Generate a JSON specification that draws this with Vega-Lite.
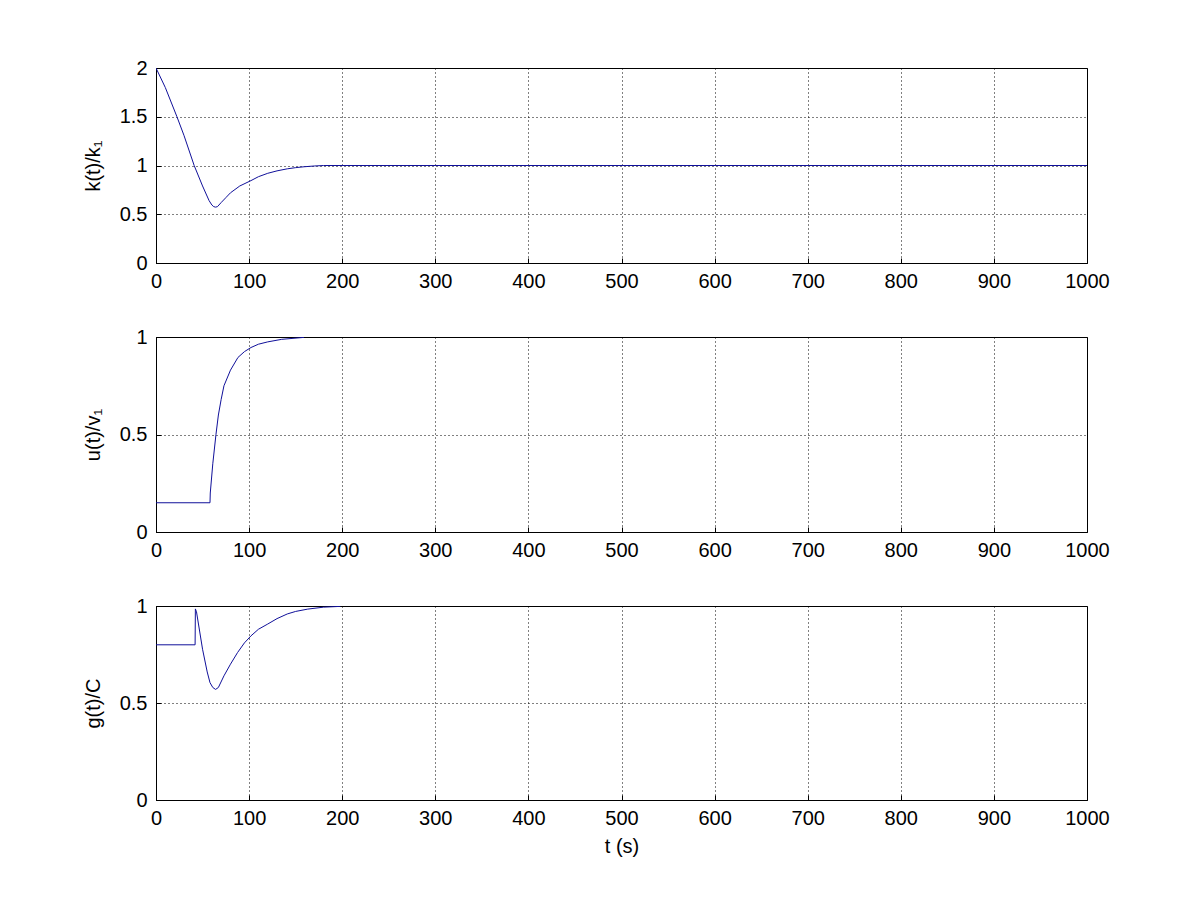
{
  "$schema": "https://vega.github.io/schema/vega-lite/v6.json",
  "background": "white",
  "autosize": {"type": "pad"},
  "padding": {"left": 82, "top": 57, "right": 0, "bottom": 0},
  "spacing": 74,
  "bounds": "flush",
  "config": {
    "font": "Liberation Sans",
    "view": {"stroke": "black", "strokeWidth": 1},
    "axis": {
      "domain": true,
      "domainColor": "black",
      "grid": true,
      "gridColor": "black",
      "gridDash": [1, 3],
      "gridOpacity": 1,
      "gridWidth": 1,
      "tickColor": "black",
      "tickSize": -5,
      "labelFont": "Liberation Sans",
      "labelFontSize": 20,
      "labelColor": "black",
      "titleFont": "Liberation Sans",
      "titleFontSize": 20,
      "titleFontWeight": "normal",
      "titleColor": "black"
    },
    "axisX": {"labelPadding": 13, "labelFlush": false, "labelOverlap": false, "format": "d"},
    "axisY": {"labelPadding": 14, "titlePadding": 16, "format": ".1~f"}
  },
  "datasets": {
    "k": [
      {"t": 0, "v": 2.0}, {"t": 10, "v": 1.8}, {"t": 22.5, "v": 1.5},
      {"t": 30, "v": 1.31}, {"t": 41, "v": 1.0}, {"t": 50, "v": 0.79}, {"t": 57, "v": 0.64},
      {"t": 60, "v": 0.595}, {"t": 62, "v": 0.578}, {"t": 64, "v": 0.573}, {"t": 66, "v": 0.578},
      {"t": 70, "v": 0.62}, {"t": 75, "v": 0.67},
      {"t": 80, "v": 0.72}, {"t": 90, "v": 0.79}, {"t": 102, "v": 0.845}, {"t": 110, "v": 0.885},
      {"t": 120, "v": 0.92}, {"t": 130, "v": 0.945}, {"t": 141, "v": 0.966}, {"t": 150, "v": 0.978},
      {"t": 159, "v": 0.987}, {"t": 170, "v": 0.995}, {"t": 180, "v": 1.0}, {"t": 1000, "v": 1.0}
    ],
    "u": [
      {"t": 0, "v": 0.15}, {"t": 58, "v": 0.15}, {"t": 58.3, "v": 0.2}, {"t": 61, "v": 0.35},
      {"t": 64.4, "v": 0.5}, {"t": 67, "v": 0.6}, {"t": 70, "v": 0.68}, {"t": 73, "v": 0.75},
      {"t": 80, "v": 0.83}, {"t": 88, "v": 0.895}, {"t": 95, "v": 0.925}, {"t": 102, "v": 0.946},
      {"t": 110, "v": 0.963}, {"t": 120, "v": 0.975}, {"t": 135, "v": 0.988}, {"t": 159, "v": 0.998}
    ],
    "g": [
      {"t": 0, "v": 0.8}, {"t": 42, "v": 0.8}, {"t": 42.3, "v": 0.985}, {"t": 43.5, "v": 0.97},
      {"t": 50, "v": 0.777}, {"t": 55, "v": 0.66}, {"t": 58, "v": 0.605}, {"t": 61, "v": 0.58},
      {"t": 64, "v": 0.57}, {"t": 67, "v": 0.58}, {"t": 73, "v": 0.64}, {"t": 80, "v": 0.7},
      {"t": 87.6, "v": 0.76}, {"t": 95, "v": 0.81}, {"t": 102, "v": 0.846}, {"t": 110, "v": 0.88},
      {"t": 120, "v": 0.907}, {"t": 130, "v": 0.935}, {"t": 141, "v": 0.959}, {"t": 150, "v": 0.972},
      {"t": 163, "v": 0.984}, {"t": 180, "v": 0.994}, {"t": 198, "v": 0.998}
    ]
  },
  "vconcat": [
    {
      "width": 931, "height": 195,
      "data": {"name": "k"},
      "mark": {"type": "line", "color": "#10109a", "strokeWidth": 1, "clip": true},
      "encoding": {
        "x": {"field": "t", "type": "quantitative", "scale": {"domain": [0, 1000], "nice": false},
              "axis": {"values": [0,100,200,300,400,500,600,700,800,900,1000], "title": null}},
        "y": {"field": "v", "type": "quantitative", "scale": {"domain": [0, 2], "nice": false, "zero": false},
              "axis": {"values": [0, 0.5, 1, 1.5, 2], "title": "k(t)/k₁"}}
      }
    },
    {
      "width": 931, "height": 195,
      "data": {"name": "u"},
      "mark": {"type": "line", "color": "#10109a", "strokeWidth": 1, "clip": true},
      "encoding": {
        "x": {"field": "t", "type": "quantitative", "scale": {"domain": [0, 1000], "nice": false},
              "axis": {"values": [0,100,200,300,400,500,600,700,800,900,1000], "title": null}},
        "y": {"field": "v", "type": "quantitative", "scale": {"domain": [0, 1], "nice": false},
              "axis": {"values": [0, 0.5, 1], "title": "u(t)/v₁"}}
      }
    },
    {
      "width": 931, "height": 194,
      "data": {"name": "g"},
      "mark": {"type": "line", "color": "#10109a", "strokeWidth": 1, "clip": true},
      "encoding": {
        "x": {"field": "t", "type": "quantitative", "scale": {"domain": [0, 1000], "nice": false},
              "axis": {"values": [0,100,200,300,400,500,600,700,800,900,1000], "title": "t (s)", "titlePadding": 8}},
        "y": {"field": "v", "type": "quantitative", "scale": {"domain": [0, 1], "nice": false},
              "axis": {"values": [0, 0.5, 1], "title": "g(t)/C"}}
      }
    }
  ]
}
